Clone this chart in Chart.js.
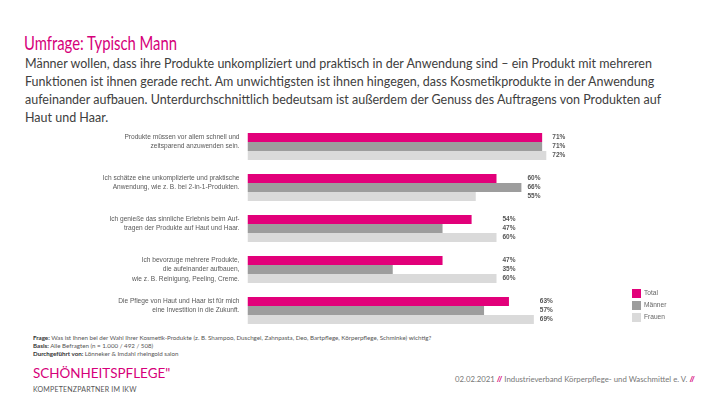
<!DOCTYPE html>
<html>
<head>
<meta charset="utf-8">
<script src="https://cdn.jsdelivr.net/npm/chart.js@4"></script>
<style>
  body { margin: 0; width: 710px; height: 399px; background: #fff; position: relative; overflow: hidden; font-family: Lato, "Open Sans", sans-serif; }
  .abs { position: absolute; white-space: nowrap; }
  #title { left: 24px; top: 31px; font-size: 19px; color: #d6007a; transform: scaleX(0.78); transform-origin: left top; }
  #intro { left: 25px; top: 55px; font-size: 12.5px; line-height: 18px; color: #404040; }
  #notes { left: 33px; top: 334px; font-size: 6.2px; line-height: 8px; color: #555; }
  #notes b { color: #333; }
  #brand { left: 33px; top: 364px; font-size: 14px; color: #d6007a; transform: scaleX(0.96); transform-origin: left top; }
  #sub { left: 33px; top: 385px; font-size: 7px; color: #555; letter-spacing: 0.2px; }
  #right { left: 455px; top: 374px; font-size: 7.8px; color: #777; }
  #right span { color: #d6007a; font-weight: bold; }
  #wrap { position: absolute; left: 0; top: 126px; width: 710px; height: 205px; }
</style>
</head>
<body>
<div class="abs" id="title">Umfrage: Typisch Mann</div>
<div class="abs" id="intro">Männer wollen, dass ihre Produkte unkompliziert und praktisch in der Anwendung sind – ein Produkt mit mehreren<br>Funktionen ist ihnen gerade recht. Am unwichtigsten ist ihnen hingegen, dass Kosmetikprodukte in der Anwendung<br>aufeinander aufbauen. Unterdurchschnittlich bedeutsam ist außerdem der Genuss des Auftragens von Produkten auf<br>Haut und Haar.</div>
<div id="wrap"><canvas id="chart"></canvas></div>
<div class="abs" id="notes"><b>Frage:</b> Was ist Ihnen bei der Wahl Ihrer Kosmetik-Produkte (z. B. Shampoo, Duschgel, Zahnpasta, Deo, Bartpflege, Körperpflege, Schminke) wichtig?<br><b>Basis:</b> Alle Befragten (n = 1.000 / 492 / 508)<br><b>Durchgeführt von:</b> Lönneker &amp; Imdahl rheingold salon</div>
<div class="abs" id="brand">SCHÖNHEITSPFLEGE"</div>
<div class="abs" id="sub">KOMPETENZPARTNER IM IKW</div>
<div class="abs" id="right">02.02.2021 <span>//</span> Industrieverband Körperpflege- und Waschmittel e. V. <span>//</span></div>

<script>
const categories = [
  ["Produkte müssen vor allem schnell und", "zeitsparend anzuwenden sein."],
  ["Ich schätze eine unkomplizierte und praktische", "Anwendung, wie z. B. bei 2-in-1-Produkten."],
  ["Ich genieße das sinnliche Erlebnis beim Auf-", "tragen der Produkte auf Haut und Haar."],
  ["Ich bevorzuge mehrere Produkte,", "die aufeinander aufbauen,", "wie z. B. Reinigung, Peeling, Creme."],
  ["Die Pflege von Haut und Haar ist für mich", "eine Investition in die Zukunft."]
];
const seriesNames = ["Total", "Männer", "Frauen"];
const total = [71, 60, 54, 47, 63];
const maenner = [71, 66, 47, 35, 57];
const frauen = [72, 55, 60, 60, 69];
const colors = ["#e2007a", "#9d9d9d", "#dadada"];

const FONT = "'Liberation Sans', Arial, sans-serif";

// category texts, drawn right-aligned next to the bars
const categoryLabels = {
  id: "categoryLabels",
  afterDraw(chart) {
    const c = chart.ctx;
    const yScale = chart.scales.y;
    const lh = 9.2;
    c.save();
    c.font = "6.6px " + FONT;
    c.fillStyle = "#595959";
    c.textAlign = "right";
    c.textBaseline = "middle";
    chart.data.labels.forEach((lines, i) => {
      const y = yScale.getPixelForValue(i);
      // two-line labels sit a bit higher than the bar group
      const n = lines.length < 3 ? lines.length + 1 : lines.length;
      const y0 = y - ((n - 1) * lh) / 2;
      lines.forEach((t, k) => c.fillText(t, chart.chartArea.left - 8, y0 + k * lh));
    });
    c.restore();
  },
};

// value labels in a column right of the longest bar of each group
const valueLabels = {
  id: "valueLabels",
  afterDatasetsDraw(chart) {
    const c = chart.ctx;
    c.save();
    c.font = "bold 6.5px " + FONT;
    c.fillStyle = "#555";
    c.textBaseline = "middle";
    chart.data.labels.forEach((_, i) => {
      let maxX = 0;
      chart.data.datasets.forEach((ds, d) => {
        maxX = Math.max(maxX, chart.getDatasetMeta(d).data[i].x);
      });
      chart.data.datasets.forEach((ds, d) => {
        const bar = chart.getDatasetMeta(d).data[i];
        c.fillText(ds.data[i] + "%", maxX + 6, bar.y);
      });
    });
    c.restore();
  },
};

// small legend at bottom right
const sideLegend = {
  id: "sideLegend",
  afterDraw(chart) {
    const c = chart.ctx;
    c.save();
    c.font = "6.6px " + FONT;
    c.textBaseline = "middle";
    chart.data.datasets.forEach((ds, d) => {
      const y = 163 + d * 12;
      c.fillStyle = ds.backgroundColor;
      c.fillRect(632, y, 9, 9);
      c.fillStyle = "#666";
      c.fillText(ds.label, 644, y + 4.5);
    });
    c.restore();
  },
};

new Chart(document.getElementById("chart"), {
  type: "bar",
  data: {
    labels: categories,
    datasets: [
      { label: seriesNames[0], data: total, backgroundColor: colors[0] },
      { label: seriesNames[1], data: maenner, backgroundColor: colors[1] },
      { label: seriesNames[2], data: frauen, backgroundColor: colors[2] },
    ],
  },
  options: {
    indexAxis: "y",
    responsive: true,
    maintainAspectRatio: false,
    animation: false,
    layout: { padding: { left: 0, right: 47.5, top: 0, bottom: 0 } },
    datasets: { bar: { barPercentage: 1, categoryPercentage: 0.66 } },
    plugins: { legend: { display: false }, tooltip: { enabled: false } },
    scales: {
      x: { display: false, min: 0, max: 100 },
      y: {
        afterFit(scale) { scale.width = 247.5; },
        grid: { display: false },
        border: { display: false },
        ticks: { display: false },
      },
    },
  },
  plugins: [categoryLabels, valueLabels, sideLegend],
});
</script>
</body>
</html>
